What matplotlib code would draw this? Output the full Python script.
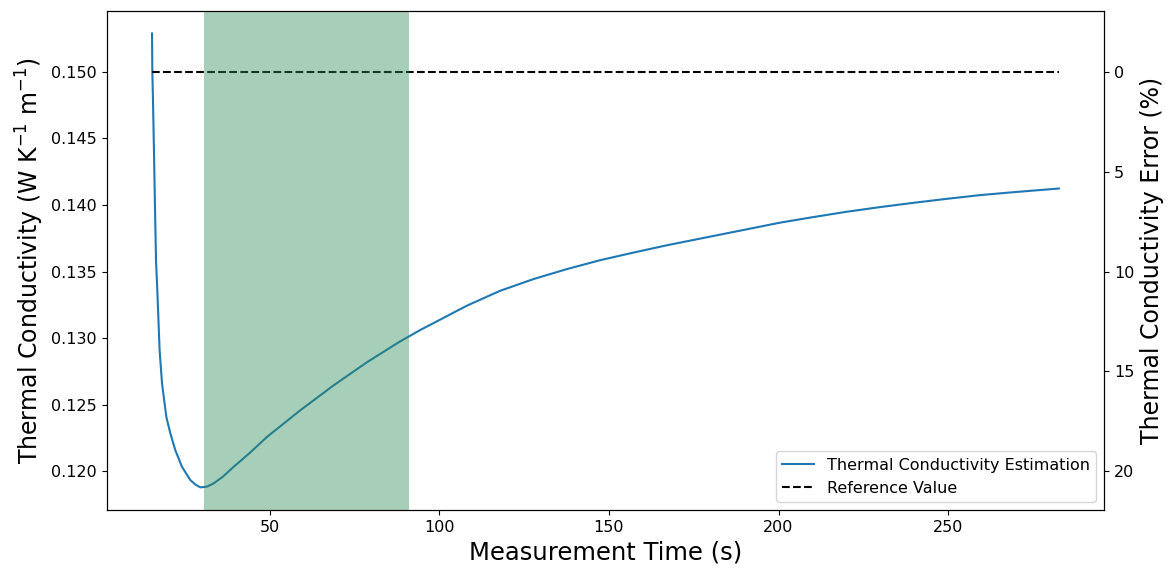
import matplotlib.pyplot as plt

time_s = [15.26, 15.35, 15.55, 15.85, 16.10, 16.44, 16.74, 17.50, 18.21, 19.48,
          20.65, 22.13, 24.10, 26.55, 28.00, 29.49, 31.50, 33.41, 36.00, 39.30,
          44.00, 49.15, 58.96, 68.77, 78.61, 88.42, 94.31, 98.23, 108.07, 117.88,
          127.70, 137.54, 147.35, 157.16, 167.00, 176.81, 190.57, 200.38, 210.19,
          220.03, 229.85, 239.66, 249.50, 259.31, 269.12, 282.67]
k_est = [0.15289, 0.15002, 0.14778, 0.14381, 0.14028, 0.13580, 0.13408, 0.12906,
         0.12659, 0.12407, 0.12285, 0.12157, 0.12032, 0.11933, 0.11900, 0.11878,
         0.11884, 0.11908, 0.11955, 0.12032, 0.12135, 0.12257, 0.12457, 0.12644,
         0.12818, 0.12975, 0.13060, 0.13112, 0.13243, 0.13355, 0.13443, 0.13518,
         0.13585, 0.13642, 0.13697, 0.13747, 0.13817, 0.13867, 0.13909, 0.13949,
         0.13984, 0.14016, 0.14046, 0.14074, 0.14096, 0.14124]

k_ref = 0.150
window = (30.5, 91.0)

fig, ax = plt.subplots(figsize=(11.66, 5.68), dpi=100)
fig.subplots_adjust(left=0.0915, right=0.947, bottom=0.102, top=0.981)

ax.plot(time_s, k_est, color="tab:blue", linewidth=1.5,
        label="Thermal Conductivity Estimation")
ax.hlines(k_ref, time_s[0], time_s[-1], colors="black", linestyles="--",
          linewidth=1.5, label="Reference Value")
# the window sits on top of the curves, tinting them
ax.axvspan(*window, color="seagreen", alpha=0.42, linewidth=0, zorder=3)

ax.tick_params(labelsize=11.5)
ax.set_xlabel("Measurement Time (s)", fontsize=17.5)
ax.set_ylabel("Thermal Conductivity (W K$^{-1}$ m$^{-1}$)", fontsize=17)
ax.legend(loc="lower right", fontsize=11.5)

# error axis follows the left one: 0 % at the reference value
ax2 = ax.twinx()
lo, hi = ax.get_ylim()
ax2.set_ylim((k_ref - lo) / k_ref * 100, (k_ref - hi) / k_ref * 100)
ax2.tick_params(labelsize=11.5)
ax2.set_ylabel("Thermal Conductivity Error (%)", fontsize=17)

fig.savefig("out.png", dpi=100)
